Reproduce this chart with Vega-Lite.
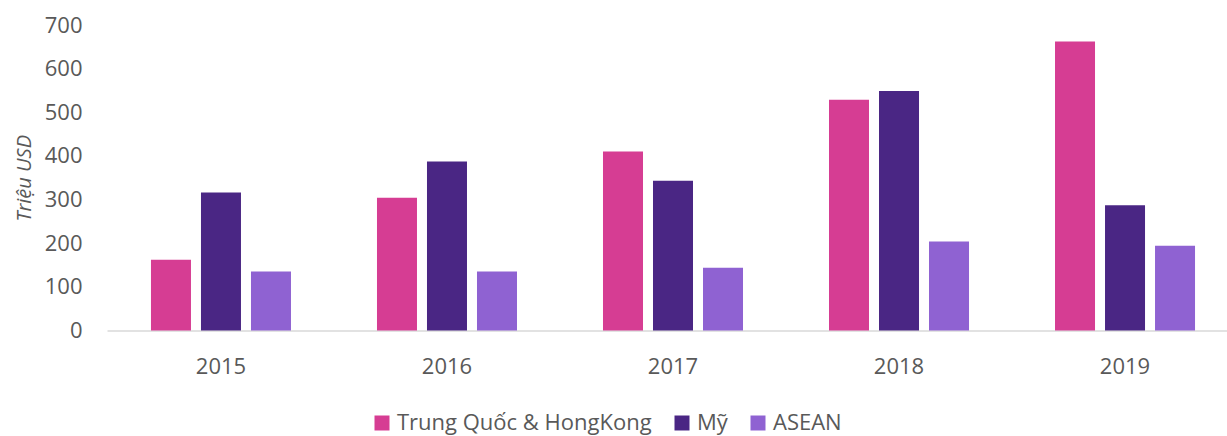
{
  "$schema": "https://vega.github.io/schema/vega-lite/v6.json",
  "autosize": {"type": "none"},
  "padding": {"left": 107, "top": 25, "right": 0, "bottom": 105.5},
  "width": 1120,
  "height": 305.5,
  "background": "white",
  "config": {
    "view": {"stroke": null},
    "font": "Open Sans",
    "axis": {"labelFont": "Open Sans", "labelColor": "#595959", "labelFontSize": 22, "titleColor": "#595959"},
    "legend": {"labelFont": "Open Sans", "labelColor": "#595959", "labelFontSize": 22, "labelLimit": 500}
  },
  "data": {
    "values": [
      {"year": "2015", "region": "Trung Quốc & HongKong", "value": 162},
      {"year": "2015", "region": "Mỹ", "value": 316},
      {"year": "2015", "region": "ASEAN", "value": 135},
      {"year": "2016", "region": "Trung Quốc & HongKong", "value": 304},
      {"year": "2016", "region": "Mỹ", "value": 387},
      {"year": "2016", "region": "ASEAN", "value": 135},
      {"year": "2017", "region": "Trung Quốc & HongKong", "value": 410},
      {"year": "2017", "region": "Mỹ", "value": 343},
      {"year": "2017", "region": "ASEAN", "value": 144},
      {"year": "2018", "region": "Trung Quốc & HongKong", "value": 529},
      {"year": "2018", "region": "Mỹ", "value": 549},
      {"year": "2018", "region": "ASEAN", "value": 204},
      {"year": "2019", "region": "Trung Quốc & HongKong", "value": 662},
      {"year": "2019", "region": "Mỹ", "value": 287},
      {"year": "2019", "region": "ASEAN", "value": 194}
    ]
  },
  "mark": {"type": "bar"},
  "encoding": {
    "x": {
      "field": "year", "type": "nominal",
      "scale": {"paddingInner": 0.3805, "paddingOuter": 0.168, "align": 0.579},
      "axis": {"title": null, "labelAngle": 0, "ticks": false, "domainColor": "#d9d9d9", "domainWidth": 1.5, "labelPadding": 26, "grid": false}
    },
    "xOffset": {
      "field": "region", "type": "nominal",
      "sort": ["Trung Quốc & HongKong", "Mỹ", "ASEAN"],
      "scale": {"paddingInner": 0.2, "paddingOuter": 0}
    },
    "y": {
      "field": "value", "type": "quantitative",
      "scale": {"domain": [0, 700], "nice": false},
      "axis": {"title": "Triệu USD", "titleFontStyle": "italic", "titleFontWeight": "normal", "titleFontSize": 20, "titleFont": "Open Sans", "values": [0, 100, 200, 300, 400, 500, 600, 700], "grid": false, "domain": false, "ticks": false, "labelPadding": 25, "titlePadding": 10}
    },
    "color": {
      "field": "region", "type": "nominal",
      "sort": ["Trung Quốc & HongKong", "Mỹ", "ASEAN"],
      "scale": {"domain": ["Trung Quốc & HongKong", "Mỹ", "ASEAN"], "range": ["#D63D93", "#4A2684", "#8F62D2"]},
      "legend": {"title": null, "orient": "none", "direction": "horizontal", "legendX": 264, "legendY": 387, "symbolType": "square", "symbolSize": 225, "symbolStrokeWidth": 0, "labelOffset": 4, "columnPadding": 19}
    }
  }
}
